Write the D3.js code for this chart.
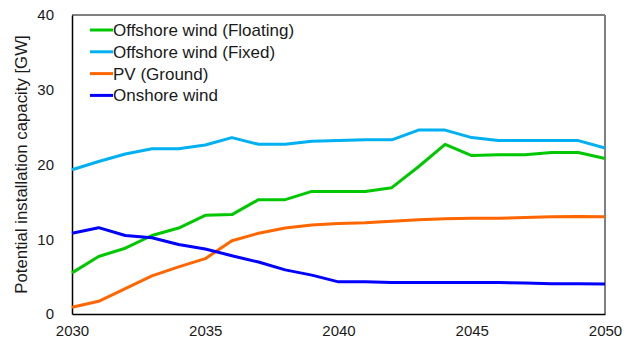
<!DOCTYPE html>
<html>
<head>
<meta charset="utf-8">
<script src="https://cdn.jsdelivr.net/npm/d3@7"></script>
<style>
  html, body { margin: 0; padding: 0; background: #fff; }
  svg { display: block; }
  text { font-family: "Liberation Sans", Arial, sans-serif; fill: #1a1a1a; }
</style>
</head>
<body>
<svg id="chart" width="633" height="341"></svg>
<script>
// Years on the horizontal axis
const years = d3.range(2030, 2051);

// Potential installation capacity per year [GW]
const floating = [5.5, 7.7, 8.8, 10.5, 11.5, 13.2, 13.3, 15.3, 15.3, 16.4, 16.4,
                  16.4, 16.9, 19.7, 22.7, 21.2, 21.3, 21.3, 21.6, 21.6, 20.8];
const fixed    = [19.3, 20.4, 21.4, 22.1, 22.1, 22.6, 23.6, 22.7, 22.7, 23.1, 23.2,
                  23.3, 23.3, 24.6, 24.6, 23.6, 23.2, 23.2, 23.2, 23.2, 22.2];
const pvGround = [0.9, 1.7, 3.4, 5.1, 6.3, 7.4, 9.8, 10.8, 11.5, 11.9, 12.1,
                  12.2, 12.4, 12.6, 12.75, 12.8, 12.8, 12.9, 13.0, 13.05, 13.0];
const onshore  = [10.8, 11.55, 10.5, 10.2, 9.3, 8.7, 7.8, 6.95, 5.9, 5.2, 4.3,
                  4.3, 4.2, 4.2, 4.2, 4.2, 4.2, 4.15, 4.05, 4.05, 4.0];

const seriesNames = ["Offshore wind (Floating)", "Offshore wind (Fixed)", "PV (Ground)", "Onshore wind"];
const seriesColors = ["#00c800", "#00b0f0", "#ff6600", "#0000ff"];
const seriesValues = [floating, fixed, pvGround, onshore];

const xTicks = [2030, 2035, 2040, 2045, 2050];
const yTicks = [0, 10, 20, 30, 40];

const svg = d3.select("#chart");
const margin = { left: 72, right: 28, top: 15, bottom: 27 };
const W = 633, H = 341;

const x = d3.scaleLinear().domain([2030, 2050]).range([margin.left, W - margin.right]);
const y = d3.scaleLinear().domain([0, 40]).range([H - margin.bottom, margin.top]);

// Plot frame: thin black top, grey right edge
svg.append("line")
  .attr("x1", x(2030)).attr("x2", x(2050))
  .attr("y1", y(40)).attr("y2", y(40))
  .attr("stroke", "#000").attr("stroke-width", 1);
svg.append("line")
  .attr("x1", x(2050)).attr("x2", x(2050))
  .attr("y1", y(40)).attr("y2", y(0))
  .attr("stroke", "#808080").attr("stroke-width", 2);

// Axes without tick marks
const xAxis = svg.append("g")
  .attr("transform", `translate(0,${y(0)})`)
  .call(d3.axisBottom(x).tickValues(xTicks).tickFormat(d3.format("d")).tickSize(0).tickPadding(11));
const yAxis = svg.append("g")
  .attr("transform", `translate(${x(2030)},0)`)
  .call(d3.axisLeft(y).tickValues(yTicks).tickSize(0).tickPadding(18));

[xAxis, yAxis].forEach(g => {
  g.select(".domain").attr("stroke", "#000").attr("stroke-width", 1.5);
  g.selectAll("text")
    .attr("font-size", 15)
    .attr("font-family", "'Liberation Sans', Arial, sans-serif")
    .attr("fill", "#1a1a1a");
});

// Y axis title
svg.append("text")
  .attr("transform", `translate(27,${(y(0) + y(40)) / 2}) rotate(-90)`)
  .attr("text-anchor", "middle")
  .attr("font-size", 16.8)
  .text("Potential installation capacity [GW]");

// Series lines
const line = d3.line()
  .x((d, i) => x(years[i]))
  .y(d => y(d));

seriesValues.forEach((vals, k) => {
  svg.append("path")
    .datum(vals)
    .attr("fill", "none")
    .attr("stroke", seriesColors[k])
    .attr("stroke-width", 3)
    .attr("stroke-linejoin", "round")
    .attr("d", line);
});

// Legend
const legend = svg.append("g").attr("transform", "translate(90,30)");
seriesNames.forEach((name, k) => {
  const row = legend.append("g").attr("transform", `translate(0,${k * 21.8})`);
  row.append("line")
    .attr("x1", 0).attr("x2", 23)
    .attr("y1", 0).attr("y2", 0)
    .attr("stroke", seriesColors[k])
    .attr("stroke-width", 3);
  row.append("text")
    .attr("x", 23)
    .attr("y", 0)
    .attr("dy", "0.35em")
    .attr("font-size", 17)
    .text(name);
});
</script>
</body>
</html>
